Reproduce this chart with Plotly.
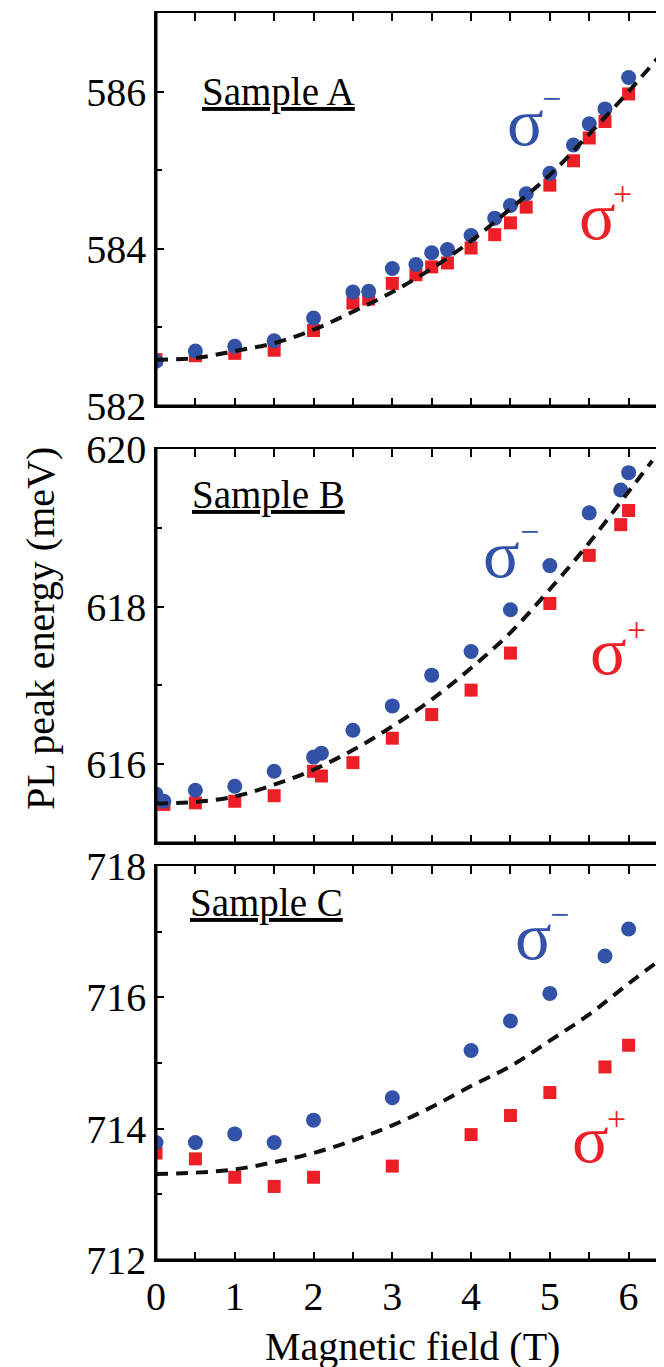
import plotly.graph_objects as go

# Sample A
field_a = [0, 0.5, 1, 1.5, 2, 2.5, 2.7, 3, 3.3, 3.5, 3.7, 4, 4.3, 4.5, 4.7, 5, 5.3, 5.5, 5.7, 6]
minus_a = [582.57, 582.70, 582.76, 582.83, 583.12, 583.45, 583.46, 583.75, 583.80, 583.95,
           583.99, 584.17, 584.39, 584.55, 584.70, 584.96, 585.32, 585.59, 585.78, 586.18]
plus_a = [582.59, 582.64, 582.67, 582.71, 582.96, 583.31, 583.36, 583.56, 583.67, 583.77,
          583.82, 584.01, 584.18, 584.33, 584.53, 584.81, 585.12, 585.41, 585.62, 585.97]
fit_field_a = [0, 0.5, 1, 1.5, 2, 2.5, 3, 3.5, 4, 4.5, 5, 5.5, 6, 6.5]
fit_a = [582.59, 582.61, 582.70, 582.80, 582.97, 583.20, 583.45, 583.75, 584.10, 584.51,
         584.94, 585.46, 586.00, 586.58]

# Sample B
field_minus_b = [0, 0.1, 0.5, 1, 1.5, 2, 2.1, 2.5, 3, 3.5, 4, 4.5, 5, 5.5, 5.9, 6]
minus_b = [615.62, 615.53, 615.67, 615.72, 615.91, 616.09, 616.14, 616.43, 616.74, 617.13,
           617.43, 617.96, 618.52, 619.19, 619.48, 619.70]
field_plus_b = [0.1, 0.5, 1, 1.5, 2, 2.1, 2.5, 3, 3.5, 4, 4.5, 5, 5.5, 5.9, 6]
plus_b = [615.49, 615.51, 615.53, 615.60, 615.91, 615.85, 616.02, 616.33, 616.63, 616.94,
          617.41, 618.04, 618.65, 619.04, 619.22]
fit_field_b = [0, 0.5, 1, 1.5, 2, 2.5, 3, 3.5, 4, 4.5, 5, 5.5, 6, 6.3]
fit_b = [615.50, 615.52, 615.59, 615.74, 615.93, 616.18, 616.48, 616.82, 617.22, 617.67,
         618.22, 618.81, 619.46, 619.85]

# Sample C
field_c = [0, 0.5, 1, 1.5, 2, 3, 4, 4.5, 5, 5.7, 6]
minus_c = [713.79, 713.79, 713.92, 713.79, 714.13, 714.47, 715.19, 715.64, 716.06, 716.63, 717.04]
plus_c = [713.63, 713.54, 713.26, 713.12, 713.26, 713.43, 713.91, 714.20, 714.55, 714.94, 715.27]
fit_field_c = [0, 0.5, 1, 1.5, 2, 2.5, 3, 3.5, 4, 4.5, 5, 5.5, 6, 6.5]
fit_c = [713.31, 713.33, 713.38, 713.49, 713.63, 713.82, 714.05, 714.33, 714.65, 714.95,
         715.34, 715.74, 716.21, 716.66]

sample_names = ["Sample A", "Sample B", "Sample C"]

BLUE = "#3152A6"
RED = "#EC1E26"
FONT = "Liberation Serif"
W, H = 664, 1367

panels = [
    ("", field_a, minus_a, field_a, plus_a, fit_field_a, fit_a),
    ("2", field_minus_b, minus_b, field_plus_b, plus_b, fit_field_b, fit_b),
    ("3", field_c, minus_c, field_c, plus_c, fit_field_c, fit_c),
]

fig = go.Figure()
for sfx, fx_m, y_m, fx_p, y_p, fx_f, y_f in panels:
    fig.add_trace(go.Scatter(x=fx_p, y=y_p, mode="markers", xaxis="x" + sfx, yaxis="y" + sfx,
                             marker=dict(symbol="square", size=13, color=RED)))
    fig.add_trace(go.Scatter(x=fx_m, y=y_m, mode="markers", xaxis="x" + sfx, yaxis="y" + sfx,
                             marker=dict(symbol="circle", size=15, color=BLUE)))
    fig.add_trace(go.Scatter(x=fx_f, y=y_f, mode="lines", xaxis="x" + sfx, yaxis="y" + sfx,
                             line=dict(color="#111111", width=4, dash="12px,8px", shape="spline")))

xdom = [148 / W, 660 / W]
ydoms = [(5, 398), (441, 835), (858, 1252)]
yranges = [[582, 587], [615, 620], [712, 718]]

axis_common = dict(showline=True, linecolor="black", linewidth=1.5, mirror="ticks",
                   ticks="inside", ticklen=8, tickwidth=1.5, tickcolor="black",
                   showgrid=False, zeroline=False, automargin=False,
                   tickfont=dict(family=FONT, size=40, color="black"))

layout = dict(width=W, height=H, showlegend=False,
              margin=dict(l=0, r=0, t=0, b=0, autoexpand=False),
              plot_bgcolor="white", paper_bgcolor="white")
shapes = []
for i, sfx in enumerate(["", "2", "3"]):
    top, bot = ydoms[i]
    layout["xaxis" + sfx] = dict(axis_common, domain=xdom, range=[0, 6.5], dtick=1, tick0=0,
                                 anchor="y" + sfx, showticklabels=(i == 2),
                                 minor=dict(dtick=0.5, ticks="inside", ticklen=8, tickwidth=1.5,
                                            tickcolor="black"))
    layout["yaxis" + sfx] = dict(axis_common, domain=[1 - bot / H, 1 - top / H],
                                 range=yranges[i], dtick=2, anchor="x" + sfx,
                                 minor=dict(dtick=1, ticks="inside", ticklen=6, tickwidth=1.5,
                                            tickcolor="black"))
    xr = "x" + sfx + " domain" if sfx else "x domain"
    yr = "y" + sfx + " domain" if sfx else "y domain"
    shapes.append(dict(type="line", xref=xr, yref=yr, x0=0, x1=0, y0=0, y1=1,
                       line=dict(color="black", width=3)))
    shapes.append(dict(type="line", xref=xr, yref=yr, x0=0, x1=1, y0=0, y1=0,
                       line=dict(color="black", width=3)))
layout["shapes"] = shapes


def note(text, px, py, size, color="black", angle=0):
    return dict(text=text, x=px / W, y=1 - py / H, xref="paper", yref="paper",
                xanchor="center", yanchor="middle", showarrow=False, textangle=angle,
                font=dict(family=FONT, size=size, color=color))


annotations = []
# panel labels (pixel centres)
for name, (px, py) in zip(sample_names, [(270, 84), (260, 487), (258, 895)]):
    annotations.append(note("<u>" + name + "</u>", px, py, 39))

# sigma labels: (sigma centre, sign centre) in pixels
sig_minus = [((517, 114), (543, 91)), ((493, 546), (521, 523)), ((525, 928), (551, 906))]
sig_plus = [((589, 208), (614, 186)), ((600, 643), (628, 621)), ((582, 1131), (608, 1110))]
for (s, m) in sig_minus:
    annotations.append(note("σ", s[0], s[1], 68, BLUE))
    annotations.append(note("−", m[0], m[1], 34, BLUE))
for (s, p) in sig_plus:
    annotations.append(note("σ", s[0], s[1], 68, RED))
    annotations.append(note("+", p[0], p[1], 34, RED))

annotations.append(note("Magnetic field (T)", 404, 1338, 40))
annotations.append(note("PL peak energy (meV)", 32, 621, 40, angle=-90))
layout["annotations"] = annotations

fig.update_layout(layout)
fig.write_html("out.html")
